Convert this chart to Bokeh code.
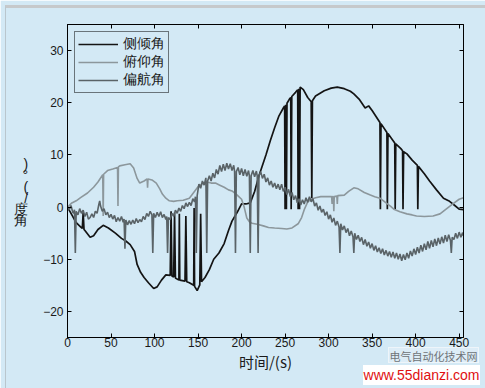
from bokeh.plotting import figure
from bokeh.models import (Range1d, LinearAxis, FixedTicker, Legend, LegendItem, CustomJSTickFormatter, Div)
from bokeh.layouts import column
from bokeh.embed import file_html
from bokeh.resources import INLINE

# ---------------- data ----------------
roll_t = [0, 5, 10, 15, 17, 18, 19, 20, 26, 30, 35, 41, 47, 55, 62, 67, 72, 77, 80, 84, 88, 93, 99, 103, 108, 113,
          118, 119, 120, 122, 123, 124, 128, 128.5, 129, 135, 136, 137, 140, 145, 145.5, 146, 149, 152, 153, 154,
          158, 163, 168, 174, 180, 185, 189, 195, 200, 205, 210, 215, 220, 223, 228, 233, 238, 243, 248,
          249.5, 250, 250.7, 251.5, 252.2, 255, 256.5, 257, 257.7, 262, 264.5, 265, 265.8, 266.6, 267.3, 271, 276,
          280, 280.7, 281.4, 285, 295, 303, 310, 318, 325, 329, 335, 342, 346, 350, 359, 359.5, 360.2, 367, 367.5,
          368.2, 376, 376.5, 377.2, 383, 385, 385.5, 386.2, 390, 396, 402, 402.5, 403.2, 410, 416, 424, 432, 439,
          445, 450, 455]
roll = [0, -1.5, -3, -3.8, -4.1, -1, -4.3, -4.5, -5.8, -5.5, -4.3, -3.5, -4, -5, -6, -6.5, -7.2, -8.5, -11, -12.5,
        -13.5, -14.5, -15.6, -15.3, -14, -13, -13.1, -0.8, -13.2, -13.4, -1.1, -13.6, -14, -1.3, -14, -14.2, -1.7,
        -14.3, -14.5, -15, -0.2, -15.2, -16, -14.9, -1.3, -14.3, -13.5, -12, -10, -8.8, -7, -4.5, -2.7, -1, 0.6,
        0.6, 0.8, 3, 6, 7.5, 10, 12.7, 15.2, 17.5, 19, 19.4, -0.4, 19.6, -0.4, 19.9, 20.7, 21, -0.4, 21.2, 22,
        22.5, -0.4, 22.7, -0.4, 23, 22.5, 21, 20.2, 1.7, 20.4, 21.3, 22.3, 22.8, 23, 22.7, 22.2, 21.7, 20.7, 19,
        19.4, 18.5, 16.2, -0.4, 16, 14.3, -0.4, 14.1, 12.3, -0.4, 12.1, 11.2, 10.8, -0.4, 10.6, 10.2, 9, 8,
        -0.4, 7.8, 6.4, 5, 3.3, 1.7, 1.1, 0.3, -0.4, -0.5]

pitch_t = [0, 5, 10, 15, 23, 30, 35, 40.5, 41, 41.5, 46, 52, 57.5, 58, 58.5, 60, 66, 72, 76, 80, 83, 88, 91.5, 92,
           92.5, 97, 102, 106, 109, 113, 117, 122, 126, 133, 140, 145, 150, 155, 160, 165, 170, 175, 180, 185, 189,
           195, 200, 203, 206, 209, 212, 218, 225, 231, 238, 246, 252, 258, 265, 269, 272, 276, 280, 285, 291, 299,
           303.5, 304, 304.5, 305.5, 306, 306.5, 309.5, 310, 310.5, 318, 323, 329, 334, 341, 348, 353, 359, 366,
           371, 375, 382, 390, 396, 401, 410, 420, 428, 435, 442, 450, 455]
pitch = [0, 0.8, 1.2, 1.8, 2.7, 3.8, 4.8, 6.2, -1.7, 6.3, 7, 7.3, 7.6, 0.2, 7.7, 7.9, 8.1, 8.3, 7.5, 5.5, 4.6, 5,
         5.4, 3.7, 5.4, 5.2, 4.6, 3.5, 2.5, 1.7, 1.2, 1.1, 1.2, 1.3, 1.7, 2.8, 3.9, 4.5, 4.8, 4.6, 4.6, 4.2, 3.8,
         3.3, 3.1, 2.3, 1.5, 0, -2.1, -2.8, -3.1, -3.3, -3.6, -3.9, -4, -4.1, -4.2, -4, -3.2, -2, -0.5, 1, 1.5,
         1.8, 2, 2, 2, 0.6, 2, 2, -0.8, 2, 2.1, 0.6, 2.2, 2.3, 3, 3.7, 3.5, 2.8, 2.3, 2, 1.7, 0.8, 0.2, -0.4,
         -0.9, -1.3, -1.5, -1.7, -1.8, -1.7, -1.3, -0.4, 0.5, 1.5, 1.8]

yaw_t = [0, 2, 4, 6, 7, 8, 9, 10, 12, 14, 16, 18, 20, 22, 24, 26, 28, 30, 32, 34, 36, 37, 38, 40, 42, 44, 46, 48,
         50, 52, 54, 56, 58, 60, 62, 64, 65, 66, 67, 69, 71, 73, 75, 77, 79, 81, 83, 85, 87, 89, 91, 93, 95, 97,
         98, 99, 101, 103, 105, 107, 109, 111, 113, 114, 115, 116, 118, 120, 122, 124, 126, 128, 130, 132, 134,
         136, 138, 140, 142, 144, 146, 147, 148, 149, 151, 153, 155, 157, 159, 160, 161, 163, 165, 167, 169, 171,
         173, 175, 177, 179, 181, 183, 185, 187, 189, 191, 192, 193, 194, 196, 198, 200, 202, 204, 206, 208, 209,
         210, 211, 213, 215, 217, 218, 219, 220, 222, 224, 226, 228, 230, 232, 234, 236, 238, 240, 242, 244, 246,
         248, 250, 252, 254, 256, 258, 260, 262, 264, 266, 268, 270, 272, 274, 276, 278, 280, 282, 284, 286, 288,
         290, 292, 294, 296, 298, 300, 302, 304, 306, 308, 310, 312, 313, 314, 316, 318, 320, 322, 324, 326, 328,
         329, 330, 332, 334, 336, 338, 340, 342, 344, 346, 348, 350, 352, 354, 356, 358, 360, 362, 364, 366, 368,
         370, 372, 374, 376, 378, 380, 382, 384, 386, 388, 390, 392, 394, 396, 398, 400, 402, 404, 406, 408, 410,
         412, 414, 416, 418, 420, 422, 424, 426, 428, 430, 432, 434, 436, 438, 440, 441, 442, 444, 446, 448, 450,
         452, 454, 455]
yaw = [0, -0.5, 0.3, -1, -1.2, -0.5, -8.8, -0.8, -1.5, -0.3, -1.2, -0.6, -1.8, -1, -2.3, -2, -1.3, -2, -0.8, -1.2,
       0.5, 1.2, 0.2, -0.8, -0.3, -1.5, -1, -2, -1.4, -2.3, -1.6, -2.8, -2, -2.7, -1.8, -2.9, -2.3, -8, -2.5, -3.4,
       -2.6, -3.3, -2.5, -3.2, -2.2, -3, -2.4, -2.8, -1.8, -2.4, -1.2, -1.8, -0.8, -1.5, -8.8, -1.2, -2, -1, -1.8,
       -0.9, -2, -1.4, -2.4, -1.8, -8.8, -2, -2.4, -1.2, -1.8, -0.6, -1.2, -0.2, -0.8, 0.3, -0.3, 0.8, 0.1, 0.9,
       0.3, 1.6, 1, 2, -8.8, 2.2, 4.4, 3.6, 5, 4.2, 5.6, -8.8, 5, 6, 5, 6.5, 5.6, 7.2, 6.3, 8, 6.8, 8.2, 7, 8.4,
       7.3, 8.3, 7, 8, 6.8, -8.8, 6.8, 7.6, 6.2, 7.4, 6, 7.2, 5.9, 7, 6, -8.8, 6, 7, 5.8, 6.9, 6, -8.8, 6, 6.8,
       5.5, 6.3, 4.8, 5.6, 4.2, 5, 3.8, 4.6, 3.5, 4.4, 3.3, 4.4, 3, 3.8, 2.4, 3.4, 2, 2.8, 1.4, 2.2, 0.8, 1.6, 0.4,
       1.4, 0.6, 1.8, 0.9, 2, 1, 1.6, 0.2, 0.8, -0.6, 0.2, -1, -0.4, -1.6, -0.9, -2.3, -1.5, -2.9, -2.1, -3.5,
       -2.7, -3.8, -8.8, -3.2, -4.4, -3.6, -4.9, -4.1, -5.5, -4.6, -5.7, -8.8, -5, -6.2, -5.4, -6.6, -5.8, -7.2,
       -6.2, -7.5, -6.7, -7.9, -7, -8.3, -7.4, -8.6, -7.8, -8.9, -8, -9.2, -8.3, -9.4, -8.5, -9.6, -8.6, -9.8,
       -8.8, -10, -9, -10.3, -9.1, -10.1, -8.8, -9.8, -8.4, -9.4, -8, -9.1, -7.7, -8.8, -7.3, -8.5, -7, -8.2,
       -6.6, -7.9, -6.4, -7.6, -6.1, -7.4, -5.9, -7.1, -5.7, -6.9, -5.4, -6.6, -5.3, -6.4, -8.8, -5.8, -6.2, -5,
       -6, -4.8, -5.8, -4.9, -5.5]

series_names = ["侧倾角", "俯仰角", "偏航角"]
x_ticks = [0, 50, 100, 150, 200, 250, 300, 350, 400, 450]
y_ticks = [-20, -10, 0, 10, 20, 30]
x_label = "时间/(s)"
y_label = "角度/(°)"
site_name = "电气自动化技术网"
site_url = "www.55dianzi.com"

# ---------------- styling ----------------
BG = "#D3E9F5"
COL_ROLL = "#141414"
COL_PITCH = "#8C979C"
COL_YAW = "#5A6367"
CJK = "Noto Sans CJK SC"
LAT = "Liberation Sans"

p = figure(width=485, height=388, output_backend="svg", toolbar_location=None,
           x_range=Range1d(0, 455), y_range=Range1d(-25, 35),
           min_border_left=67, min_border_right=22, min_border_top=24, min_border_bottom=51)
p.background_fill_color = BG
p.border_fill_color = BG
p.outline_line_color = "black"
p.outline_line_width = 1
p.xgrid.visible = False
p.ygrid.visible = False

r_roll = p.line(roll_t, roll, line_color=COL_ROLL, line_width=1.7)
r_pitch = p.line(pitch_t, pitch, line_color=COL_PITCH, line_width=1.6)
r_yaw = p.line(yaw_t, yaw, line_color=COL_YAW, line_width=1.6)

def style_axis(ax, ticks, labels=True):
    ax.ticker = FixedTicker(ticks=ticks)
    ax.major_tick_in = 4
    ax.major_tick_out = 0
    ax.minor_tick_line_color = None
    ax.axis_line_color = "black"
    ax.major_tick_line_color = "black"
    if labels:
        ax.major_label_text_font = LAT
        ax.major_label_text_font_size = "12px"
        ax.major_label_text_color = "#1a1a1a"
    else:
        ax.formatter = CustomJSTickFormatter(code="return '';")
        ax.major_label_standoff = 0

style_axis(p.xaxis[0], x_ticks)
style_axis(p.yaxis[0], y_ticks)
p.xaxis[0].major_label_standoff = 0
p.yaxis[0].major_label_standoff = 4
p.xaxis[0].axis_label = x_label
p.xaxis[0].axis_label_text_font = CJK
p.xaxis[0].axis_label_text_font_size = "15px"
p.xaxis[0].axis_label_text_font_style = "normal"
p.xaxis[0].axis_label_standoff = 1
p.xaxis[0].axis_label_text_color = "#1a1a1a"

# vertical title: characters stacked top to bottom, read upward
p.yaxis[0].axis_label = "\u3000\n\u3000\n" + "\n".join(reversed(list(y_label)))
p.yaxis[0].axis_label_orientation = "horizontal"
p.yaxis[0].axis_label_text_font = LAT
p.yaxis[0].axis_label_text_font_size = "14px"
p.yaxis[0].axis_label_text_font_style = "normal"
p.yaxis[0].axis_label_text_line_height = 0.7
p.yaxis[0].axis_label_standoff = 12
p.yaxis[0].axis_label_text_color = "#1a1a1a"

top_ax = LinearAxis()
style_axis(top_ax, x_ticks, labels=False)
p.add_layout(top_ax, "above")
right_ax = LinearAxis()
style_axis(right_ax, y_ticks, labels=False)
p.add_layout(right_ax, "right")

legend = Legend(items=[LegendItem(label=series_names[0], renderers=[r_roll]),
                       LegendItem(label=series_names[1], renderers=[r_pitch]),
                       LegendItem(label=series_names[2], renderers=[r_yaw])],
                location="top_left")
legend.margin = 7
legend.padding = 3
legend.spacing = 0
legend.glyph_width = 40
legend.glyph_height = 14
legend.label_height = 14
legend.label_standoff = 5
legend.label_text_font = LAT
legend.label_text_font_size = "13.5px"
legend.label_text_line_height = 0.85
legend.label_text_color = "#1a1a1a"
legend.border_line_color = "black"
legend.border_line_width = 1
legend.background_fill_color = BG
legend.background_fill_alpha = 1
p.add_layout(legend)

# site watermark at bottom right, overlaid on the page
mark_html = (
    '<div style="position:relative;width:117px;height:38px;">'
    '<div style="position:absolute;left:25px;top:0px;width:91px;height:16px;background:#DDEDF7;'
    'border:1px solid #eef5fa;color:#6f7478;font-family:\'Noto Sans CJK SC\';font-size:11px;'
    'line-height:16px;text-align:center;">' + site_name + '</div>'
    '<div style="position:absolute;left:0px;top:18px;width:117px;height:20px;background:#ffffff;'
    'color:#e01010;font-family:\'Liberation Sans\';font-size:14px;line-height:20px;text-align:center;">'
    + site_url + '</div></div>'
)
mark = Div(text=mark_html, width=117, height=38,
           styles={"position": "absolute", "left": "358px", "top": "342px", "z-index": "5"})

# thin picture frame around the image
frame_div = Div(text="", width=485, height=388,
                styles={"position": "absolute", "left": "0px", "top": "0px", "z-index": "4",
                        "pointer-events": "none", "box-sizing": "border-box",
                        "border-top": "3px solid #c6c9cb", "border-left": "1px solid #b9c6cd",
                        "border-right": "4px solid #e2edf3", "border-bottom": "2px solid #b9c6cd"})

layout = column(p, mark, frame_div)
open("out.html", "w").write(file_html(layout, INLINE))
